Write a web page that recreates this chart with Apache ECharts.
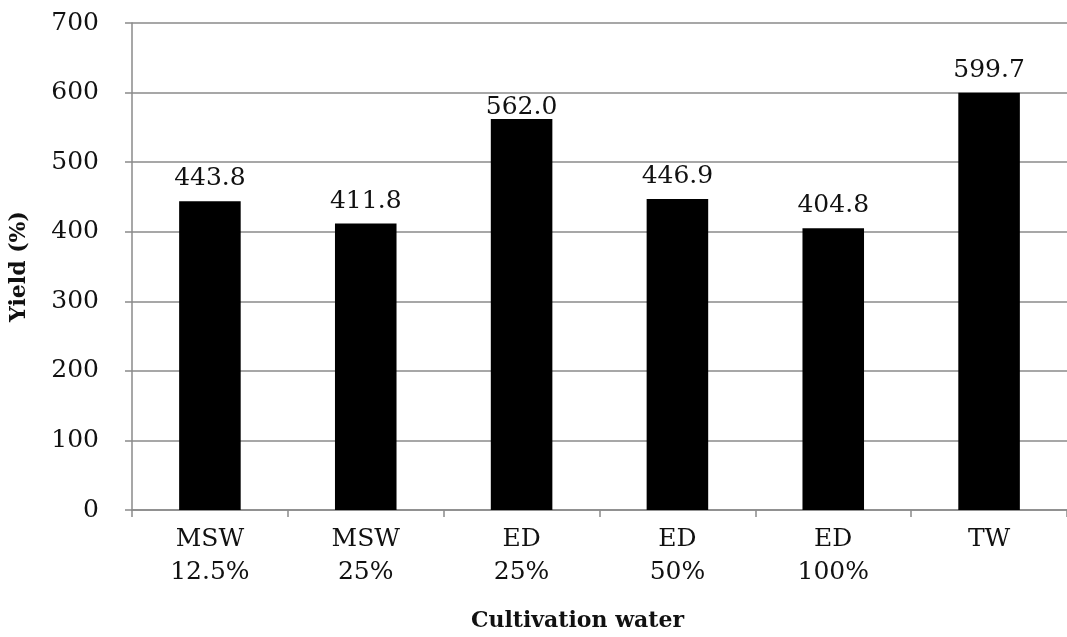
<!DOCTYPE html>
<html>
<head>
<meta charset="utf-8">
<script src="https://cdn.jsdelivr.net/npm/echarts@6/dist/echarts.min.js"></script>
<style>
html,body{margin:0;padding:0;background:#fff;}
#chart{width:1067px;height:637px;}
</style>
</head>
<body>
<div id="chart"></div>
<script>
const categories = ['MSW\n12.5%', 'MSW\n25%', 'ED\n25%', 'ED\n50%', 'ED\n100%', 'TW'];
const yieldValues = [443.8, 411.8, 562.0, 446.9, 404.8, 599.7];
const yTicks = { min: 0, max: 700, interval: 100 };

const FONT = '"DejaVu Serif", "Liberation Serif", serif';
// the label of the third bar sits closer to its bar in the reference
const seriesData = yieldValues.map((v, i) =>
  i === 2 ? { value: v, label: { distance: -1 } } : { value: v });

const chart = echarts.init(document.getElementById('chart'));
chart.setOption({
  backgroundColor: '#ffffff',
  animation: false,
  grid: { left: 132, right: -6, top: 23, bottom: 126, containLabel: false },
  xAxis: {
    type: 'category',
    data: categories,
    name: 'Cultivation water',
    nameLocation: 'middle',
    nameGap: 100,
    nameTextStyle: { fontFamily: FONT, fontSize: 22, fontWeight: 'bold', color: '#111', padding: [0, 44, 0, 0] },
    axisLine: { lineStyle: { color: '#8a8a8a', width: 1.5 } },
    axisTick: { show: true, length: 7, lineStyle: { color: '#8a8a8a', width: 1.5 } },
    axisLabel: { fontFamily: FONT, fontSize: 25, color: '#111', lineHeight: 33, margin: 13 }
  },
  yAxis: {
    type: 'value',
    min: yTicks.min,
    max: yTicks.max,
    interval: yTicks.interval,
    name: 'Yield (%)',
    nameLocation: 'middle',
    nameGap: 102,
    nameRotate: 90,
    nameTextStyle: { fontFamily: FONT, fontSize: 22, fontWeight: 'bold', color: '#111' },
    axisLine: { show: true, lineStyle: { color: '#8a8a8a', width: 1.5 } },
    axisTick: { show: true, length: 7, lineStyle: { color: '#8a8a8a', width: 1.5 } },
    axisLabel: { fontFamily: FONT, fontSize: 25, color: '#111', margin: 33 },
    splitLine: { show: true, lineStyle: { color: '#8a8a8a', width: 1.5 } }
  },
  series: [{
    type: 'bar',
    data: seriesData,
    barWidth: '39.5%',
    itemStyle: { color: '#000000' },
    label: {
      show: true,
      position: 'top',
      distance: 10,
      fontFamily: FONT,
      fontSize: 25,
      color: '#111',
      formatter: p => p.value.toFixed(1)
    }
  }]
});
</script>
</body>
</html>
